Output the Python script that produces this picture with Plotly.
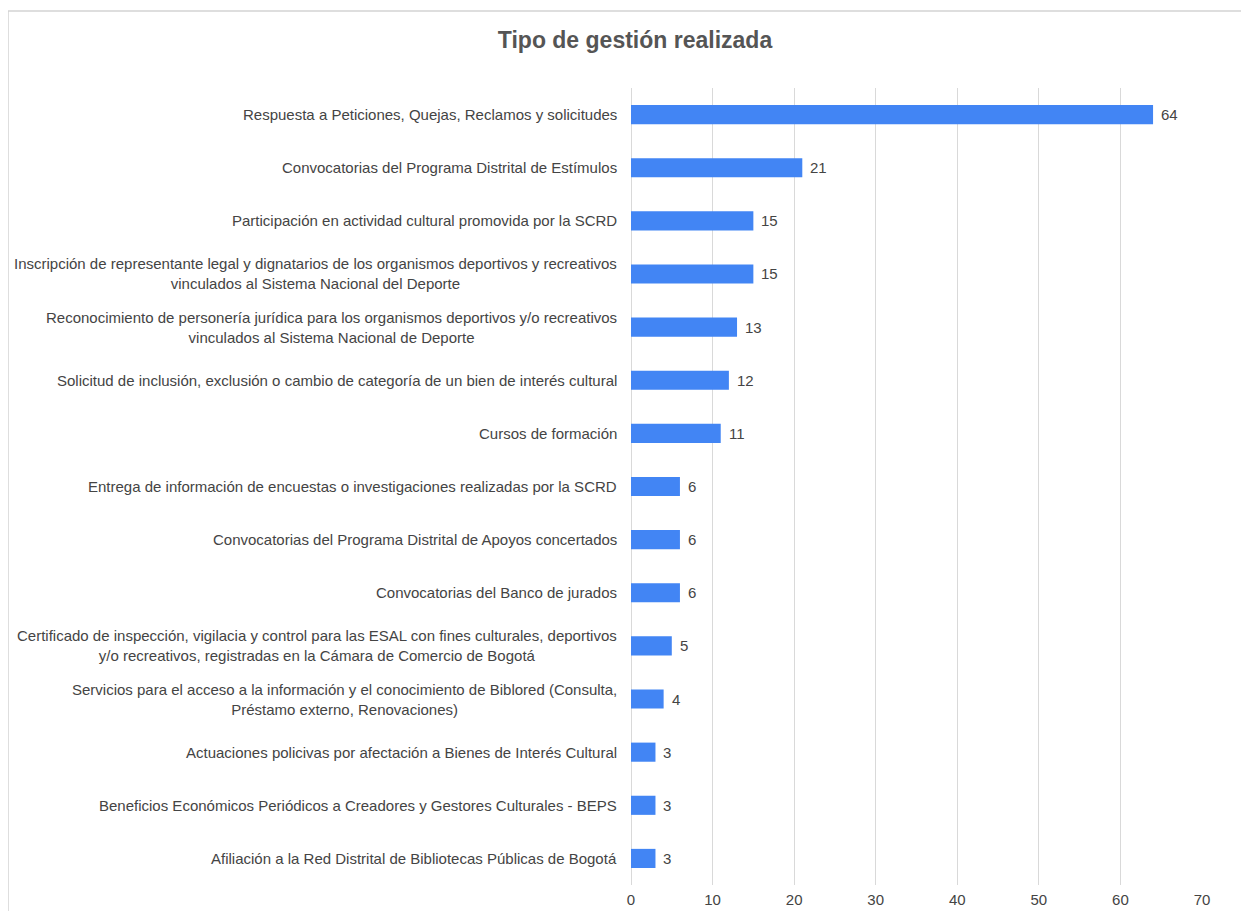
import plotly.graph_objects as go

categories = [
    "Respuesta a Peticiones, Quejas, Reclamos y solicitudes",
    "Convocatorias del Programa Distrital de Estímulos",
    "Participación en actividad cultural promovida por la SCRD",
    "Inscripción de representante legal y dignatarios de los organismos deportivos y recreativos<br>vinculados al Sistema Nacional del Deporte",
    "Reconocimiento de personería jurídica para los organismos deportivos y/o recreativos<br>vinculados al Sistema Nacional de Deporte",
    "Solicitud de inclusión, exclusión o cambio de categoría de un bien de interés cultural",
    "Cursos de formación",
    "Entrega de información de encuestas o investigaciones realizadas por la SCRD",
    "Convocatorias del Programa Distrital de Apoyos concertados",
    "Convocatorias del Banco de jurados",
    "Certificado de inspección, vigilacia y control para las ESAL con fines culturales, deportivos<br>y/o recreativos, registradas en la Cámara de Comercio de Bogotá",
    "Servicios para el acceso a la información y el conocimiento de Biblored (Consulta,<br>Préstamo externo, Renovaciones)",
    "Actuaciones policivas por afectación a Bienes de Interés Cultural",
    "Beneficios Económicos Periódicos a Creadores y Gestores Culturales - BEPS",
    "Afiliación a la Red Distrital de Bibliotecas Públicas de Bogotá",
]
values = [64, 21, 15, 15, 13, 12, 11, 6, 6, 6, 5, 4, 3, 3, 3]
x_ticks = [0, 10, 20, 30, 40, 50, 60, 70]

FONT = "Arial, Liberation Sans, sans-serif"
TXT = "#444444"

W, H = 1241, 903
L, R, T, B = 623, 47, 80, 26
PW, PH = W - L - R, H - T - B

fig = go.Figure()
fig.add_trace(go.Bar(
    x=values, y=categories, orientation="h",
    marker=dict(color="#4285F4", line=dict(width=0)),
    width=0.36,
))

for c in categories:
    fig.add_annotation(
        x=0, y=c, xref="x", yref="y", text=c, showarrow=False,
        xanchor="right", yanchor="middle", align="center", xshift=-12,
        font=dict(family=FONT, size=15, color=TXT),
    )

for c, v in zip(categories, values):
    fig.add_annotation(
        x=v, y=c, xref="x", yref="y", text=str(v), showarrow=False,
        xanchor="left", yanchor="middle", xshift=6,
        font=dict(family=FONT, size=15, color=TXT),
    )

fig.add_shape(type="rect", xref="paper", yref="paper",
              x0=(0 - L) / PW, x1=2.0, y0=-0.5, y1=(H - B - 3) / PH,
              line=dict(color="#d3d3d3", width=1.5), fillcolor="rgba(0,0,0,0)", layer="below")

fig.update_layout(
    width=W, height=H,
    margin=dict(l=L, r=R, t=T, b=B, autoexpand=False),
    paper_bgcolor="white", plot_bgcolor="white",
    title=dict(text="<b>Tipo de gestión realizada</b>", x=627 / W, xanchor="center",
               y=1 - 32 / H, yanchor="middle",
               font=dict(family=FONT, size=23, color="#555555")),
    showlegend=False,
    xaxis=dict(range=[0, 70], tickvals=x_ticks, showgrid=True, gridcolor="#d9d9d9", gridwidth=1,
               zeroline=True, zerolinecolor="#d9d9d9", zerolinewidth=1, showline=False,
               automargin=False,
               tickfont=dict(family=FONT, size=15, color=TXT), ticks="", ticklabelstandoff=4),
    yaxis=dict(autorange="reversed", showticklabels=False, showgrid=False, ticks="", showline=False,
               automargin=False),
)

fig.write_html("out.html")
